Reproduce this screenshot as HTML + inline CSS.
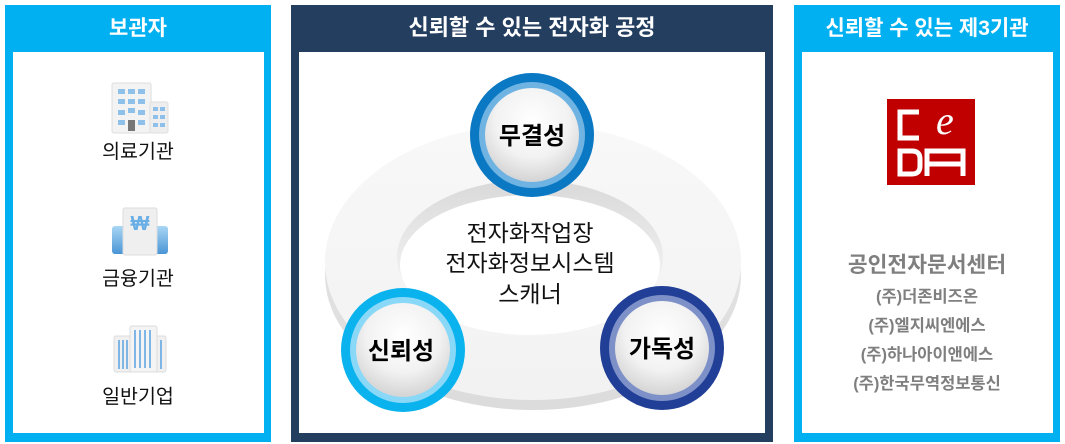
<!DOCTYPE html>
<html><head><meta charset="utf-8"><style>
body{margin:0;width:1065px;height:444px;background:#fff;overflow:hidden;font-family:"Liberation Sans","Noto Sans CJK KR",sans-serif}
svg{position:absolute;left:0;top:0}
</style></head><body>
<svg width="1065" height="444" viewBox="0 0 1065 444" font-family="Liberation Sans, Noto Sans CJK KR, sans-serif">
<defs>
<radialGradient id="disk" cx="50%" cy="35%" r="65%"><stop offset="0" stop-color="#ffffff"/><stop offset="0.6" stop-color="#f2f2f2"/><stop offset="1" stop-color="#d4d4d4"/></radialGradient>
<linearGradient id="side" x1="0" y1="0" x2="0" y2="1"><stop offset="0" stop-color="#e6e6e6"/><stop offset="1" stop-color="#dcdcdc"/></linearGradient>
<linearGradient id="topf" x1="0" y1="0" x2="0" y2="1"><stop offset="0" stop-color="#f8f8f8"/><stop offset="1" stop-color="#f2f2f2"/></linearGradient>
<linearGradient id="inner" x1="0" y1="0" x2="0" y2="1"><stop offset="0" stop-color="#d9d9d9"/><stop offset="0.5" stop-color="#ececec"/><stop offset="1" stop-color="#f8f8f8"/></linearGradient>
<linearGradient id="bl" x1="0" y1="0" x2="0" y2="1"><stop offset="0" stop-color="#a9d6f5"/><stop offset="1" stop-color="#4a95d6"/></linearGradient>
<mask id="hole"><rect width="1065" height="444" fill="#fff"/><ellipse cx="530" cy="257" rx="133" ry="77" fill="#000"/></mask>
</defs>
<rect x="5" y="5" width="266" height="437" fill="#00b0f0"/>
<rect x="13" y="52" width="251" height="381" fill="#fff"/>
<text x="138" y="35" fill="#fff" font-size="21" font-weight="bold" text-anchor="middle">보관자</text>
<g>
<rect x="112" y="83" width="39" height="50" rx="2" fill="#f3f3f3" stroke="#ddd"/>
<rect x="150" y="102" width="18" height="31" rx="2" fill="#eee" stroke="#ddd"/>
<g fill="#8ec0ea"><rect x="118" y="89" width="7" height="5"/><rect x="128" y="89" width="7" height="5"/><rect x="138" y="89" width="7" height="5"/><rect x="118" y="99" width="7" height="5"/><rect x="128" y="99" width="7" height="5"/><rect x="138" y="99" width="7" height="5"/><rect x="118" y="110" width="7" height="5"/><rect x="128" y="108" width="7" height="5"/><rect x="138" y="110" width="7" height="5"/><rect x="118" y="120" width="7" height="5"/><rect x="138" y="120" width="7" height="5"/><rect x="153" y="107" width="5" height="4"/><rect x="160" y="107" width="5" height="4"/><rect x="153" y="115" width="5" height="4"/><rect x="160" y="115" width="5" height="4"/><rect x="153" y="123" width="5" height="4"/><rect x="160" y="123" width="5" height="4"/></g>
<rect x="128" y="120" width="7" height="11" fill="#777"/>
</g>
<text x="138" y="158" font-size="19.5" text-anchor="middle" fill="#111">의료기관</text>
<g>
<rect x="112" y="226" width="56" height="28" rx="3" fill="url(#bl)"/>
<rect x="123" y="208" width="34" height="47" rx="2" fill="#efefef" stroke="#ddd"/>
<text x="140" y="230" font-size="20" font-weight="bold" fill="#6aaee6" text-anchor="middle">₩</text>
</g>
<text x="138" y="285" font-size="19.5" text-anchor="middle" fill="#111">금융기관</text>
<g>
<rect x="114" y="336" width="52" height="36" rx="2" fill="#f0f0f0" stroke="#ddd"/>
<rect x="130" y="326" width="27" height="46" rx="2" fill="#f4f4f4" stroke="#ddd"/>
<g fill="#7fb6e6"><rect x="118" y="340" width="2" height="29"/><rect x="122" y="340" width="2" height="29"/><rect x="126" y="340" width="2" height="29"/><rect x="134" y="330" width="2" height="38"/><rect x="139" y="330" width="2" height="38"/><rect x="144" y="330" width="2" height="38"/><rect x="149" y="330" width="2" height="38"/><rect x="160" y="340" width="2" height="29"/></g>
</g>
<text x="138" y="403" font-size="19.5" text-anchor="middle" fill="#111">일반기업</text>

<rect x="291" y="5" width="482" height="437" fill="#243e60"/>
<rect x="299" y="52" width="466" height="381" fill="#fff"/>
<text x="532" y="35" fill="#fff" font-size="22" font-weight="bold" text-anchor="middle">신뢰할 수 있는 전자화 공정</text>
<ellipse cx="533" cy="275" rx="208" ry="135" fill="url(#side)" mask="url(#hole)"/>
<ellipse cx="533" cy="262" rx="208" ry="138" fill="url(#topf)" mask="url(#hole)"/>
<ellipse cx="530" cy="257" rx="133" ry="77" fill="url(#inner)"/>
<ellipse cx="530" cy="265" rx="130" ry="70" fill="#fff"/>
<g>
<circle cx="532" cy="135" r="62" fill="#0a78c2"/>
<circle cx="532" cy="135" r="53" fill="#6fb3e3"/>
<circle cx="532" cy="135" r="47" fill="url(#disk)"/>
<text x="532" y="144" font-size="24" font-weight="bold" text-anchor="middle" fill="#000">무결성</text>
</g>
<g>
<circle cx="403" cy="350" r="62" fill="#0bb3ee"/>
<circle cx="403" cy="350" r="53" fill="#8ad8f7"/>
<circle cx="403" cy="350" r="47" fill="url(#disk)"/>
<text x="401" y="359" font-size="24" font-weight="bold" text-anchor="middle" fill="#000">신뢰성</text>
</g>
<g>
<circle cx="662" cy="348" r="62" fill="#213f96"/>
<circle cx="662" cy="348" r="53" fill="#7d90c8"/>
<circle cx="662" cy="348" r="47" fill="url(#disk)"/>
<text x="662" y="357" font-size="24" font-weight="bold" text-anchor="middle" fill="#000">가독성</text>
</g>
<g font-size="23" text-anchor="middle" fill="#111">
<text x="530" y="241">전자화작업장</text>
<text x="530" y="271">전자화정보시스템</text>
<text x="530" y="302">스캐너</text>
</g>

<rect x="794" y="5" width="266" height="437" fill="#00b0f0"/>
<rect x="802" y="52" width="251" height="381" fill="#fff"/>
<text x="927" y="35" fill="#fff" font-size="21" font-weight="bold" text-anchor="middle">신뢰할 수 있는 제3기관</text>
<rect x="887" y="99" width="88" height="86" fill="#c00000"/>
<g fill="none" stroke="#fff" stroke-width="5">
<path d="M919 112 H900 V138 H919"/>
<path d="M900 151 V174 H912 Q920 174 920 166 V159 Q920 151 912 151 Z"/>
<path d="M927 176 V151 H963 V176 M927 164 H963"/>
</g>
<text x="936" y="134" font-family="Liberation Serif, serif" font-style="italic" font-size="40" fill="#fff">e</text>
<text x="927" y="272" font-size="21.5" font-weight="bold" text-anchor="middle" fill="#7f7f7f">공인전자문서센터</text>
<g font-size="16.5" font-weight="bold" text-anchor="middle" fill="#7f7f7f">
<text x="927" y="302">(주)더존비즈온</text>
<text x="927" y="331">(주)엘지씨엔에스</text>
<text x="927" y="360">(주)하나아이앤에스</text>
<text x="927" y="389">(주)한국무역정보통신</text>
</g>
</svg>
</body></html>
